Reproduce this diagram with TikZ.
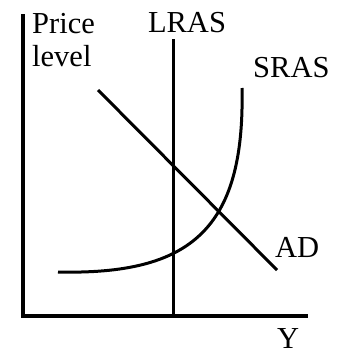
\documentclass[tikz,border=0pt]{standalone}
\usepackage{fontspec}
\setmainfont{Liberation Serif}
\usepackage{xcolor}

\begin{document}
\begin{tikzpicture}[x=1pt, y=-1pt,
    axisline/.style={line width=3.6pt},
    curveline/.style={line width=3pt},
    lbl/.style={inner sep=0pt, font=\fontsize{30.5}{33}\selectfont}]
  \useasboundingbox (0,0) rectangle (337,354);

  % Axes
  \coordinate (ytop) at (23,14);
  \coordinate (xend) at (308,316);
  \draw[axisline] (ytop) |- (xend);

  % LRAS
  \coordinate (lrastop) at (173,39);
  \coordinate (lrasbot) at (173,316);
  \draw[curveline] (lrastop) -- (lrasbot);

  % AD
  \coordinate (adstart) at (98,90);
  \coordinate (adend) at (277,270);
  \draw[curveline] (adstart) -- (adend);

  % SRAS
  \coordinate (srasstart) at (58,272);
  \coordinate (srasend) at (242,88);
  \draw[curveline] (srasstart) .. controls (190,275) and (245,230) .. (srasend);

  % Labels
  \node[lbl, anchor=base west, align=left] (pricelbl) at (32,66) {Price\\level};
  \node[lbl, anchor=base] (lraslbl) at (187,32) {LRAS};
  \node[lbl, anchor=base west] (sraslbl) at (253,77) {SRAS};
  \node[lbl, anchor=base west] (adlbl) at (275,257) {AD};
  \node[lbl, anchor=base west] (ylbl) at (277,348) {Y};
\end{tikzpicture}
\end{document}
